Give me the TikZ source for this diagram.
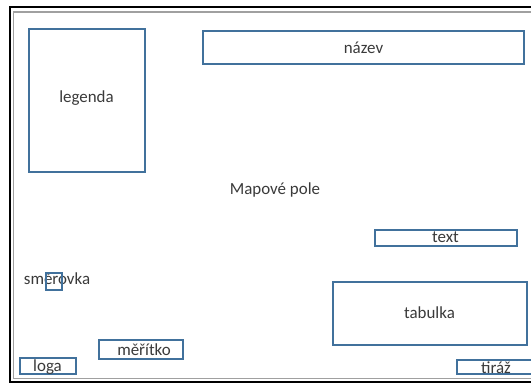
\documentclass[tikz,border=0pt]{standalone}
\usepackage{fontspec}
\setmainfont{Carlito}
\definecolor{boxblue}{HTML}{41719C}
\definecolor{txtgrey}{HTML}{3A3A3A}
\definecolor{framegrey}{HTML}{A0A0A0}
\tikzset{
  pbox/.style={draw=boxblue, line width=1.5pt, fill=white, inner sep=0pt, text=txtgrey,
    font=\fontsize{12.7pt}{14pt}\selectfont},
  plain/.style={inner sep=0pt, text=txtgrey, font=\fontsize{12.7pt}{14pt}\selectfont},
  outerframe/.style={draw=black, line width=2.2pt},
  innerframe/.style={draw=framegrey, line width=1.2pt}
}
\begin{document}
\begin{tikzpicture}[x=0.75pt,y=-0.75pt]
\path[use as bounding box, clip] (0,0) rectangle (531,383);
\fill[white] (0,0) rectangle (531,383);
% frame
\coordinate (otr) at (540,7);
\coordinate (otl) at (10,7);
\coordinate (obl) at (10,382);
\coordinate (obr) at (540,382);
\draw[outerframe] (otr) -- (otl) -- (obl) -- (obr);
\coordinate (itr) at (540,12);
\coordinate (itl) at (13.5,12);
\coordinate (ibl) at (13.5,378.5);
\coordinate (ibr) at (540,378.5);
\draw[innerframe] (itr) -- (itl) -- (ibl) -- (ibr);
% boxes
\node[pbox, minimum width=116*0.75pt, minimum height=143*0.75pt] (legenda) at (86.5,100) {\raisebox{5.5pt}{legenda}};
\node[pbox, minimum width=321*0.75pt, minimum height=33*0.75pt] (nazev) at (363.5,47.5) {název};
\node[plain] (pole) at (275,190) {Mapové pole};
\node[pbox, minimum width=142*0.75pt, minimum height=16*0.75pt] (text) at (445.5,237.5) {text};
\node[pbox, minimum width=194*0.75pt, minimum height=63*0.75pt] (tabulka) at (429.5,313) {tabulka};
\node[pbox, minimum width=88*0.75pt, minimum height=14*0.75pt] (tiraz) at (501,367) {};
\node[plain] (tiraztext) at (496,368) {tiráž};
\node[pbox, minimum width=84*0.75pt, minimum height=19*0.75pt] (meritko) at (141,349.5) {};
\node[plain] (meritkotext) at (144,350) {měřítko};
\node[pbox, minimum width=56*0.75pt, minimum height=16*0.75pt] (loga) at (48,366) {};
\node[plain] (logatext) at (47.5,367) {loga};
\node[plain] (smerovka) at (57,279) {směrovka};
\node[pbox, fill=none, minimum width=16*0.75pt, minimum height=17*0.75pt] (smerbox) at (54,281) {};
\end{tikzpicture}
\end{document}
